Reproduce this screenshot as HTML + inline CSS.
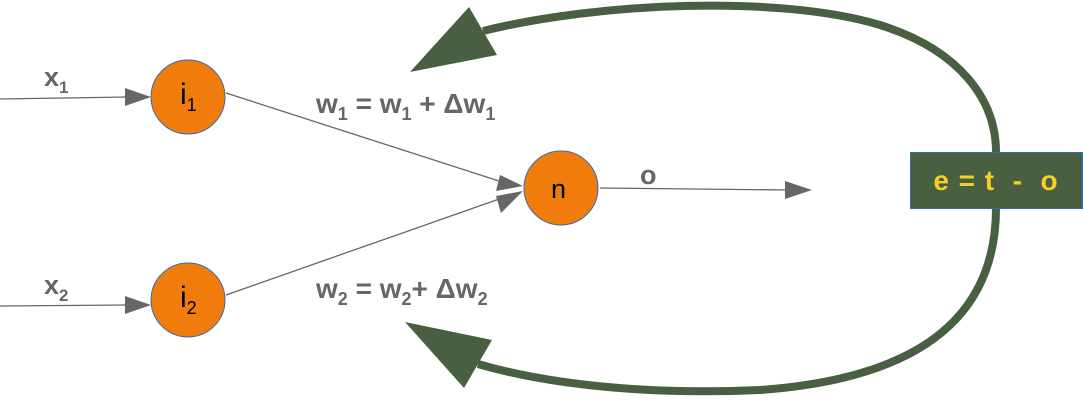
<!DOCTYPE html>
<html><head><meta charset="utf-8"><style>
html,body{margin:0;padding:0;background:#fff;}
svg{display:block;}
text{font-family:"Liberation Sans",sans-serif;}
</style></head><body>
<svg width="1083" height="400" viewBox="0 0 1083 400" xmlns="http://www.w3.org/2000/svg">
<g stroke="#666" stroke-width="1.3" fill="none">
<line x1="0" y1="99" x2="128" y2="97"/>
<line x1="0" y1="306" x2="128" y2="305"/>
<line x1="226" y1="93" x2="502" y2="182"/>
<line x1="226" y1="295" x2="502" y2="198"/>
<line x1="600" y1="188" x2="790" y2="190"/>
</g>
<g fill="#666">
<polygon points="151,97 125,88 125,106"/>
<polygon points="151,305 125,296 125,314"/>
<polygon points="523,186 500,175 496,191"/>
<polygon points="523,191 496,196 501,213"/>
<polygon points="812,190 785,181 785,199"/>
</g>
<circle cx="188" cy="97" r="37" fill="#f07c0c" stroke="#3a6bb0" stroke-width="1"/>
<circle cx="188" cy="300" r="37" fill="#f07c0c" stroke="#3a6bb0" stroke-width="1"/>
<circle cx="561" cy="188" r="37" fill="#f07c0c" stroke="#3a6bb0" stroke-width="1"/>
<text x="180" y="104" font-size="30" fill="#000">i<tspan font-size="18" dy="7">1</tspan></text>
<text x="180" y="307" font-size="30" fill="#000">i<tspan font-size="18" dy="7">2</tspan></text>
<text x="551" y="198" font-size="27" fill="#000">n</text>
<g fill="#666" font-weight="bold">
<text x="44" y="86" font-size="27">x<tspan font-size="17" dy="7">1</tspan></text>
<text x="44" y="294" font-size="27">x<tspan font-size="17" dy="7">2</tspan></text>
<text x="316" y="113" font-size="28">w<tspan font-size="18" dy="7">1</tspan><tspan dy="-7"> = w</tspan><tspan font-size="18" dy="7">1</tspan><tspan dy="-7"> + Δw</tspan><tspan font-size="18" dy="7">1</tspan></text>
<text x="316" y="298" font-size="28">w<tspan font-size="18" dy="7">2</tspan><tspan dy="-7"> = w</tspan><tspan font-size="18" dy="7">2</tspan><tspan dy="-7">+ Δw</tspan><tspan font-size="18" dy="7">2</tspan></text>
<text x="640" y="184" font-size="27">o</text>
</g>
<path d="M483,31 C600,2 780,-5 880,25 C960,50 996,100 996,152 L996,208 C996,330 900,380 760,390 C650,395 550,385 478,364" fill="none" stroke="#486041" stroke-width="8"/>
<polygon points="410,72 469,7 497,55" fill="#486041"/>
<polygon points="405,322 492,340 464,388" fill="#486041"/>
<rect x="910.5" y="152.5" width="172" height="56" fill="#486041" stroke="#3a6bb0" stroke-width="1"/>
<text x="996" y="190" font-size="28" font-weight="bold" fill="#f5d020" text-anchor="middle" letter-spacing="1" xml:space="preserve">e = t  -  o</text>
</svg>
</body></html>
